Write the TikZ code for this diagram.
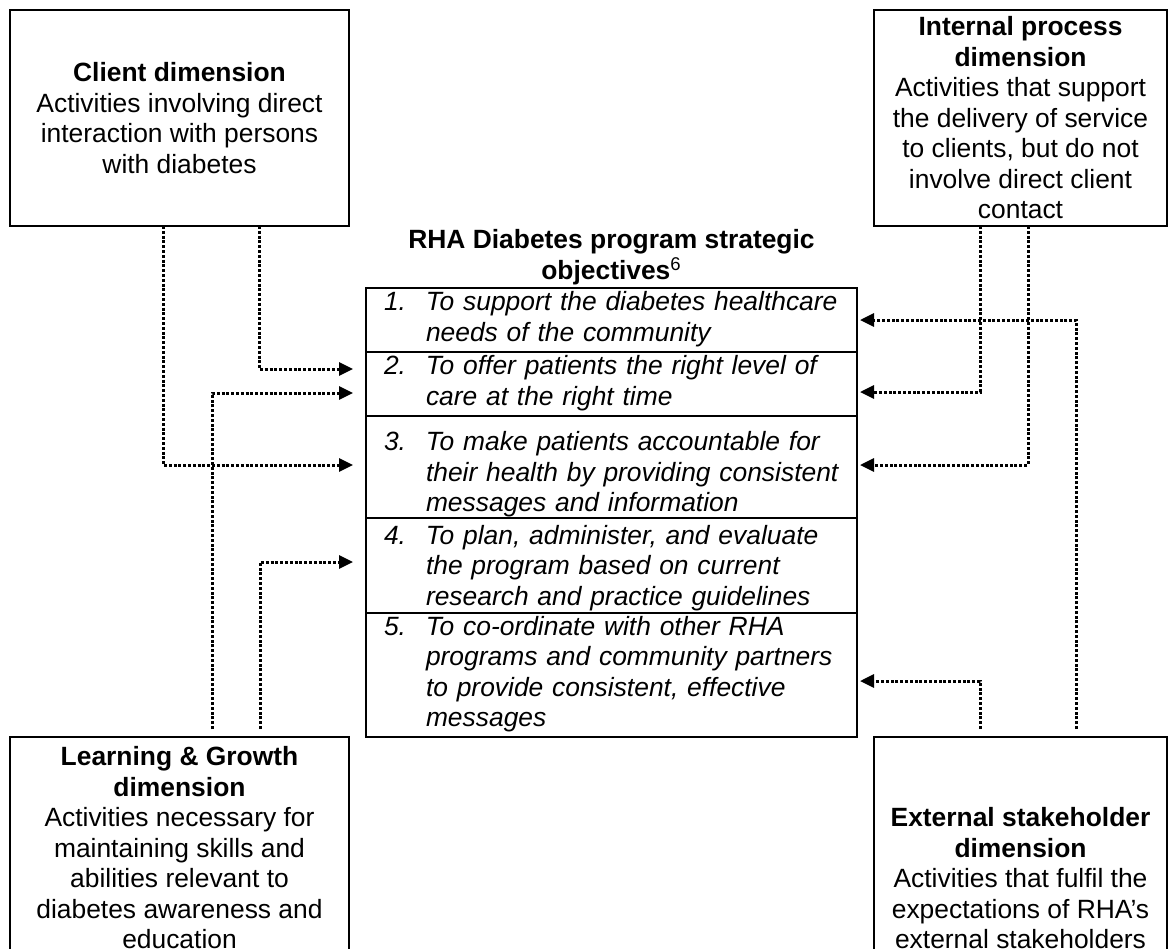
\documentclass[tikz,border=0pt]{standalone}
\usepackage{fontspec}
\setmainfont{Liberation Sans}
\usetikzlibrary{arrows.meta,positioning}

% one objective row: number column, then the text lines (optional drop)
\newcommand{\objitem}[3][0pt]{\raisebox{-#1}[\height][\depth]{%
  \begin{tabular}{@{}p{21pt}@{}l@{}}#2 & #3\end{tabular}}}

\begin{document}
\begin{tikzpicture}[x=0.5pt, y=-0.5pt,
    font=\fontsize{13.2}{15.25}\selectfont,
    dimbox/.style={draw, line width=1pt, inner sep=0pt, outer sep=0pt, align=center},
    objrow/.style={draw, line width=1pt, inner xsep=9pt, inner ysep=0pt, outer sep=0pt,
      text width=227.5pt, align=left, font=\fontsize{13.2}{15.25}\selectfont\itshape},
    link/.style={line width=1.5pt, dash pattern=on 1.5pt off 0.9pt,
      -{Triangle[length=7pt,width=6.5pt]}}]
  \clip (0,0) rectangle (1172,948);

  % the four dimensions
  \node[dimbox, minimum width=169.5pt, minimum height=108pt] (client) at (179.5,118)
    {\textbf{Client dimension}\\Activities involving direct\\interaction with persons\\with diabetes};
  \node[dimbox, minimum width=146.5pt, minimum height=108pt] (internal) at (1020.5,118)
    {\textbf{Internal process}\\\textbf{dimension}\\Activities that support\\the delivery of service\\to clients, but do not\\involve direct client\\contact};
  \node[dimbox, minimum width=169.5pt, minimum height=111pt] (learn) at (179.5,848)
    {\textbf{Learning \& Growth}\\\textbf{dimension}\\Activities necessary for\\maintaining skills and\\abilities relevant to\\diabetes awareness and\\education};
  \node[dimbox, minimum width=146.5pt, minimum height=141.5pt] (external) at (1020.5,878.5)
    {\textbf{External stakeholder}\\\textbf{dimension}\\Activities that fulfil the\\expectations of RHA’s\\external stakeholders};

  % strategic objectives table
  \node[font=\fontsize{13.2}{15.25}\selectfont\bfseries, align=center] (title) at (611.5,257)
    {RHA Diabetes program strategic\\objectives\textsuperscript{\mdseries 6}};
  \node[objrow, minimum height=32pt, anchor=north west] (row1) at (366,288)
    {\objitem{1.}{To support the diabetes healthcare\\ & needs of the community}};
  \node[objrow, minimum height=32pt, below=0pt of row1] (row2)
    {\objitem{2.}{To offer patients the right level of\\ & care at the right time}};
  \node[objrow, minimum height=51pt, below=0pt of row2] (row3)
    {\objitem[4pt]{3.}{To make patients accountable for\\ & their health by providing consistent\\ & messages and information}};
  \node[objrow, minimum height=47.5pt, below=0pt of row3] (row4)
    {\objitem[1.5pt]{4.}{To plan, administer, and evaluate\\ & the program based on current\\ & research and practice guidelines}};
  \node[objrow, minimum height=62pt, below=0pt of row4] (row5)
    {\objitem{5.}{To co-ordinate with other RHA\\ & programs and community partners\\ & to provide consistent, effective\\ & messages}};

  % dotted links, left side
  \draw[link, shorten >=6.5pt] ([xshift=-8.25pt]client.south) |- ([yshift=1pt]row3.west);
  \draw[link, shorten >=6.5pt] ([xshift=39.75pt]client.south) |- ([yshift=7.5pt]row2.west);
  \draw[link, shorten >=6.5pt] ([xshift=16.25pt, yshift=4pt]learn.north) |- ([yshift=-4.5pt]row2.west);
  \draw[link, shorten >=6.5pt] ([xshift=40.25pt, yshift=4pt]learn.north) |- ([yshift=1.75pt]row4.west);
  % dotted links, right side
  \draw[link, shorten >=1.5pt] ([xshift=-20.25pt]internal.south) |- ([yshift=-4pt]row2.east);
  \draw[link, shorten >=1.5pt] ([xshift=3.75pt]internal.south) |- ([yshift=1pt]row3.east);
  \draw[link, shorten >=1.5pt] ([xshift=27.75pt, yshift=4pt]external.north) |- (row1.east);
  \draw[link, shorten >=1.5pt] ([xshift=-20.25pt, yshift=4pt]external.north) |- ([yshift=-3pt]row5.east);
\end{tikzpicture}
\end{document}
